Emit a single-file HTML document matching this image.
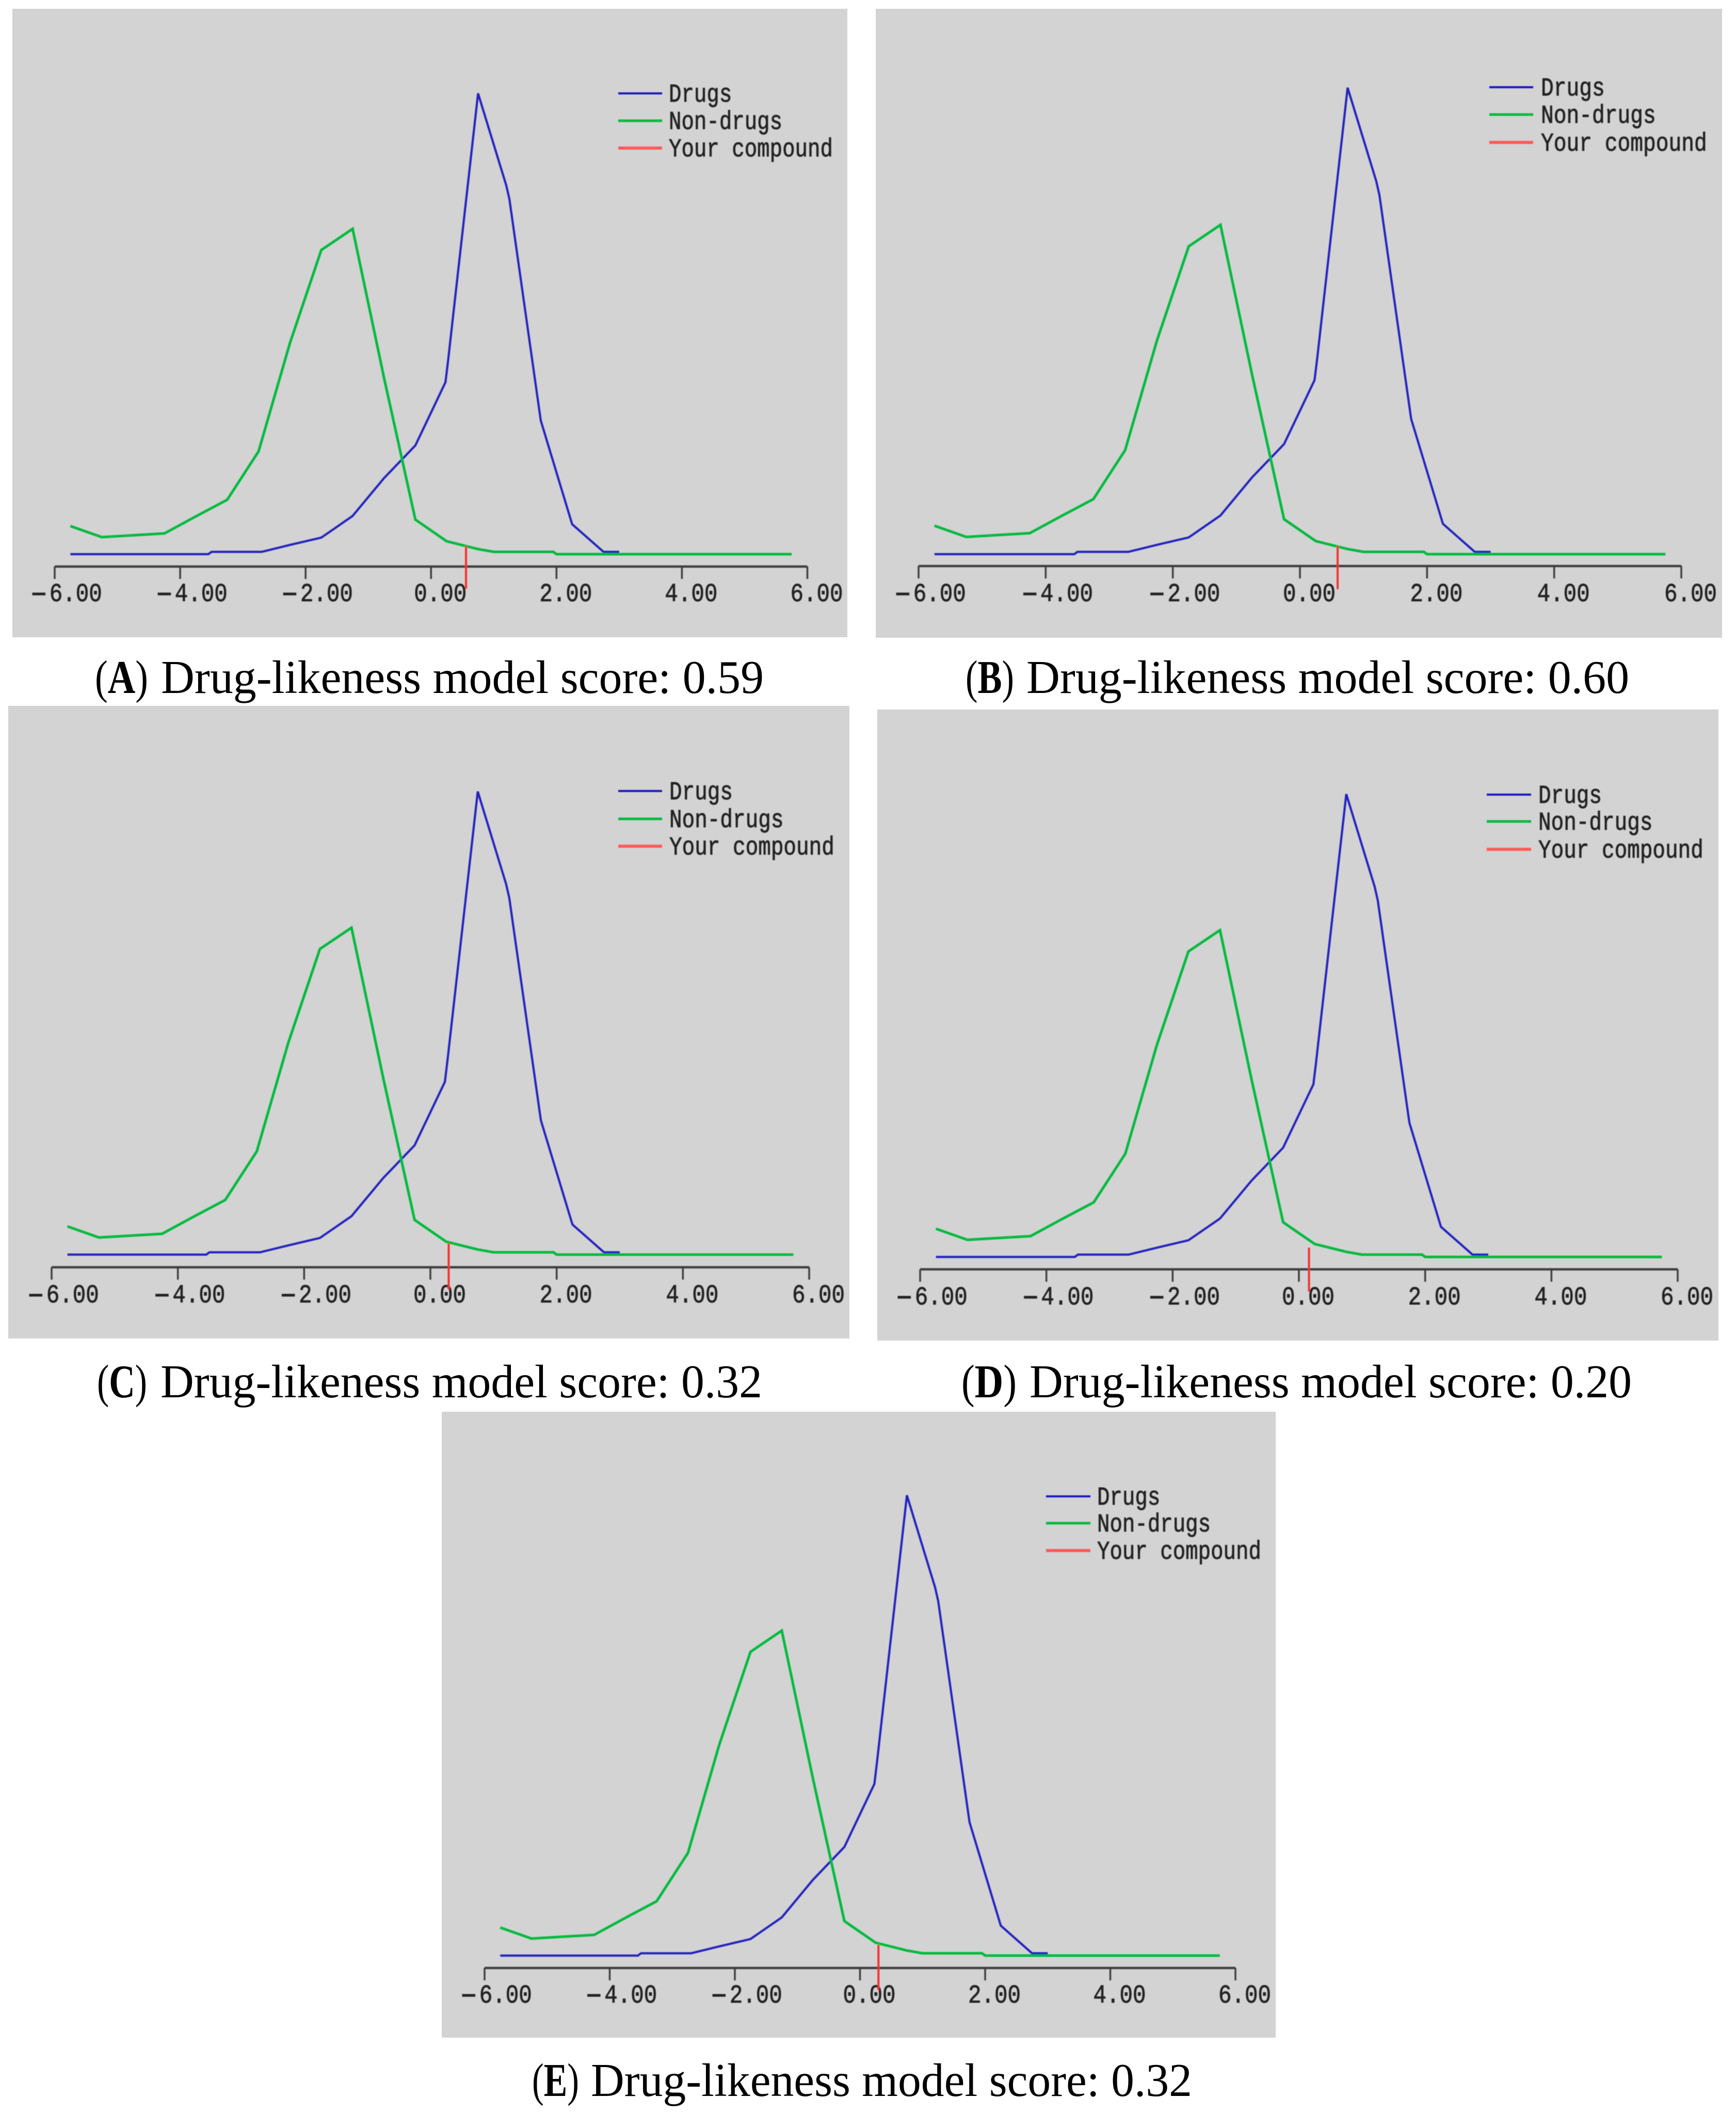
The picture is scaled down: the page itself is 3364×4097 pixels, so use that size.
<!DOCTYPE html>
<html lang="en">
<head>
<meta charset="utf-8">
<title>Drug-likeness model score distributions</title>
<style>
html,body{margin:0;padding:0;background:#fff;}
svg{display:block;}
.legend-text,.tick-text{font-family:"Liberation Mono",monospace;font-size:50px;fill:#222;stroke:#222;stroke-width:.9px;}
.caption{font-family:"Liberation Serif",serif;font-size:91px;fill:#000;}
.caption .letter{font-weight:bold;}
</style>
</head>
<body>
<svg id="figure" xmlns="http://www.w3.org/2000/svg" width="3364" height="4097" viewBox="0 0 3364 4097">
<defs><filter id="soft" x="-5%" y="-5%" width="110%" height="110%"><feGaussianBlur stdDeviation="0.9"/></filter></defs>
<rect width="3364" height="4097" fill="#fff"/>

<g>
<rect x="24" y="17" width="1618" height="1218" fill="#d3d3d3"/>
<g class="plot" data-index="0" data-x0="106" data-x1="1564.5" data-axis="1098" data-base="1074" data-peak="181" data-label="1165" filter="url(#soft)"></g>
<g filter="url(#soft)">
<line x1="1198" x2="1283" y1="181" y2="181" stroke="#1414c0" stroke-width="4"/>
<line x1="1198" x2="1283" y1="234" y2="234" stroke="#00ba3c" stroke-width="5"/>
<line x1="1198" x2="1283" y1="287" y2="287" stroke="#ff5a5a" stroke-width="6"/>
<text class="legend-text" transform="translate(1296,197) scale(.815,1)">Drugs</text>
<text class="legend-text" transform="translate(1296,250) scale(.815,1)">Non-drugs</text>
<text class="legend-text" transform="translate(1296,303) scale(.815,1)">Your compound</text>
</g>
<text class="caption" x="184" y="1343" textLength="103" lengthAdjust="spacingAndGlyphs">(<tspan class="letter">A</tspan>)</text>
<text class="caption" x="312" y="1343" textLength="1168" lengthAdjust="spacingAndGlyphs">Drug-likeness model score: 0.59</text>
</g>

<g>
<rect x="1697" y="17" width="1640" height="1219" fill="#d3d3d3"/>
<g class="plot" data-index="1" data-x0="1780" data-x1="3258" data-axis="1097" data-base="1074" data-peak="170" data-label="1165" filter="url(#soft)"></g>
<g filter="url(#soft)">
<line x1="2886" x2="2971" y1="169" y2="169" stroke="#1414c0" stroke-width="4"/>
<line x1="2886" x2="2971" y1="222" y2="222" stroke="#00ba3c" stroke-width="5"/>
<line x1="2886" x2="2971" y1="276" y2="276" stroke="#ff5a5a" stroke-width="6"/>
<text class="legend-text" transform="translate(2986,185) scale(.825,1)">Drugs</text>
<text class="legend-text" transform="translate(2986,238) scale(.825,1)">Non-drugs</text>
<text class="legend-text" transform="translate(2986,292) scale(.825,1)">Your compound</text>
</g>
<text class="caption" x="1871" y="1343" textLength="94" lengthAdjust="spacingAndGlyphs">(<tspan class="letter">B</tspan>)</text>
<text class="caption" x="1989" y="1343" textLength="1168" lengthAdjust="spacingAndGlyphs">Drug-likeness model score: 0.60</text>
</g>

<g>
<rect x="16" y="1368" width="1630" height="1226" fill="#d3d3d3"/>
<g class="plot" data-index="2" data-x0="100" data-x1="1568" data-axis="2456" data-base="2431.5" data-peak="1534" data-label="2524" filter="url(#soft)"></g>
<g filter="url(#soft)">
<line x1="1198" x2="1283" y1="1533" y2="1533" stroke="#1414c0" stroke-width="4"/>
<line x1="1198" x2="1283" y1="1587" y2="1587" stroke="#00ba3c" stroke-width="5"/>
<line x1="1198" x2="1283" y1="1640" y2="1640" stroke="#ff5a5a" stroke-width="6"/>
<text class="legend-text" transform="translate(1297,1549) scale(.82,1)">Drugs</text>
<text class="legend-text" transform="translate(1297,1603) scale(.82,1)">Non-drugs</text>
<text class="legend-text" transform="translate(1297,1656) scale(.82,1)">Your compound</text>
</g>
<text class="caption" x="188" y="2708" textLength="97" lengthAdjust="spacingAndGlyphs">(<tspan class="letter">C</tspan>)</text>
<text class="caption" x="311" y="2708" textLength="1166" lengthAdjust="spacingAndGlyphs">Drug-likeness model score: 0.32</text>
</g>

<g>
<rect x="1700" y="1375" width="1630" height="1223" fill="#d3d3d3"/>
<g class="plot" data-index="3" data-x0="1783" data-x1="3251" data-axis="2460" data-base="2436" data-peak="1539" data-label="2528" filter="url(#soft)"></g>
<g filter="url(#soft)">
<line x1="2881" x2="2967" y1="1540" y2="1540" stroke="#1414c0" stroke-width="4"/>
<line x1="2881" x2="2967" y1="1592" y2="1592" stroke="#00ba3c" stroke-width="5"/>
<line x1="2881" x2="2967" y1="1646" y2="1646" stroke="#ff5a5a" stroke-width="6"/>
<text class="legend-text" transform="translate(2981,1556) scale(.82,1)">Drugs</text>
<text class="legend-text" transform="translate(2981,1608) scale(.82,1)">Non-drugs</text>
<text class="legend-text" transform="translate(2981,1662) scale(.82,1)">Your compound</text>
</g>
<text class="caption" x="1863" y="2708" textLength="107" lengthAdjust="spacingAndGlyphs">(<tspan class="letter">D</tspan>)</text>
<text class="caption" x="1995" y="2708" textLength="1167" lengthAdjust="spacingAndGlyphs">Drug-likeness model score: 0.20</text>
</g>

<g>
<rect x="856" y="2736" width="1616" height="1213" fill="#d3d3d3"/>
<g class="plot" data-index="4" data-x0="939" data-x1="2394" data-axis="3814" data-base="3790" data-peak="2898" data-label="3881" filter="url(#soft)"></g>
<g filter="url(#soft)">
<line x1="2027" x2="2113" y1="2900" y2="2900" stroke="#1414c0" stroke-width="4"/>
<line x1="2027" x2="2113" y1="2952" y2="2952" stroke="#00ba3c" stroke-width="5"/>
<line x1="2027" x2="2113" y1="3005" y2="3005" stroke="#ff5a5a" stroke-width="6"/>
<text class="legend-text" transform="translate(2126,2916) scale(.815,1)">Drugs</text>
<text class="legend-text" transform="translate(2126,2968) scale(.815,1)">Non-drugs</text>
<text class="legend-text" transform="translate(2126,3021) scale(.815,1)">Your compound</text>
</g>
<text class="caption" x="1031" y="4062" textLength="91" lengthAdjust="spacingAndGlyphs">(<tspan class="letter">E</tspan>)</text>
<text class="caption" x="1145" y="4062" textLength="1165" lengthAdjust="spacingAndGlyphs">Drug-likeness model score: 0.32</text>
</g>
</svg>

<script>
const tickValues = [-6, -4, -2, 0, 2, 4, 6];
const tickLabels = ['−6.00', '−4.00', '−2.00', '0.00', '2.00', '4.00', '6.00'];
const drugsX = [-5.75, -3.55, -3.5, -2.7, -2.25, -1.75, -1.25, -0.75, -0.25, 0.23, 0.27, 0.75, 1.2, 1.25, 1.75, 2.25, 2.75, 3.0];
const drugsY = [0, 0, 5, 5, 20, 36, 83, 165, 236, 373, 418, 1000, 800, 770, 290, 65, 5, 5];
const nonDrugsX = [-5.75, -5.25, -4.75, -4.25, -3.75, -3.25, -2.75, -2.25, -1.75, -1.25, -0.75, -0.25, 0.25, 0.75, 1.0, 1.95, 2.0, 2.75, 3.25, 3.75, 4.25, 4.75, 5.25, 5.75];
const nonDrugsY = [61, 37, 41, 45, 82, 118, 223, 458, 660, 706, 383, 75, 28, 11, 5, 5, 0, 0, 0, 0, 0, 0, 0, 0];
const compoundScores = [0.558, 0.593, 0.29, 0.16, 0.295];
const compoundTops = [18, 18, 25, 20, 23];
const compoundBottom = -75;

const SVG_NS = 'http://www.w3.org/2000/svg';

function make(tag, attrs, parent) {
  const el = document.createElementNS(SVG_NS, tag);
  Object.keys(attrs).forEach(function (k) { el.setAttribute(k, attrs[k]); });
  parent.appendChild(el);
  return el;
}

function polyline(xs, ys, sx, sy) {
  return xs.map(function (v, i) { return sx(v).toFixed(1) + ',' + sy(ys[i]).toFixed(1); }).join(' ');
}

document.querySelectorAll('.plot').forEach(function (plot) {
  const d = plot.dataset;
  const x0 = +d.x0, x1 = +d.x1, axisY = +d.axis, base = +d.base, peak = +d.peak, labelY = +d.label;
  const sx = function (v) { return x0 + (v + 6) / 12 * (x1 - x0); };
  const sy = function (v) { return base - v / 1000 * (base - peak); };
  const idx = +d.index;

  
  

  const axis = make('line', { x1: sx(-6), x2: sx(6), y1: axisY, y2: axisY, stroke: '#3c3c3c', 'stroke-width': 4.5 }, plot);
  
  

  tickValues.forEach(function (v, i) {
    const tick = make('line', { x1: sx(v), x2: sx(v), y1: axisY, y2: axisY + 24, stroke: '#3c3c3c', 'stroke-width': 3.5 }, plot);
    
    

    const label = tickLabels[i];
    const negative = v < 0;
    const originX = sx(v) + (negative ? -46 : -33);
    const text = make('text', { 'class': 'tick-text', transform: 'translate(' + originX + ',' + labelY + ') scale(.85,1)' }, plot);
    
    
    if (negative) {
      const minus = make('tspan', { 'font-size': 60, dy: 6 }, text);
      minus.textContent = label.charAt(0);
      const digits = make('tspan', { dx: 6, dy: -6 }, text);
      digits.textContent = label.slice(1);
    } else {
      text.textContent = label;
    }
  });

  const drugs = make('polyline', { points: polyline(drugsX, drugsY, sx, sy), fill: 'none', stroke: '#2222c0', 'stroke-width': 4.2, 'stroke-linejoin': 'miter' }, plot);
  
  

  const nonDrugs = make('polyline', { points: polyline(nonDrugsX, nonDrugsY, sx, sy), fill: 'none', stroke: '#00ba3c', 'stroke-width': 5, 'stroke-linejoin': 'miter' }, plot);
  
  

  const marker = make('line', { x1: sx(compoundScores[idx]), x2: sx(compoundScores[idx]), y1: sy(compoundTops[idx]), y2: sy(compoundBottom), stroke: '#f52f2f', 'stroke-width': 4 }, plot);
  
  
});
</script>
</body>
</html>
